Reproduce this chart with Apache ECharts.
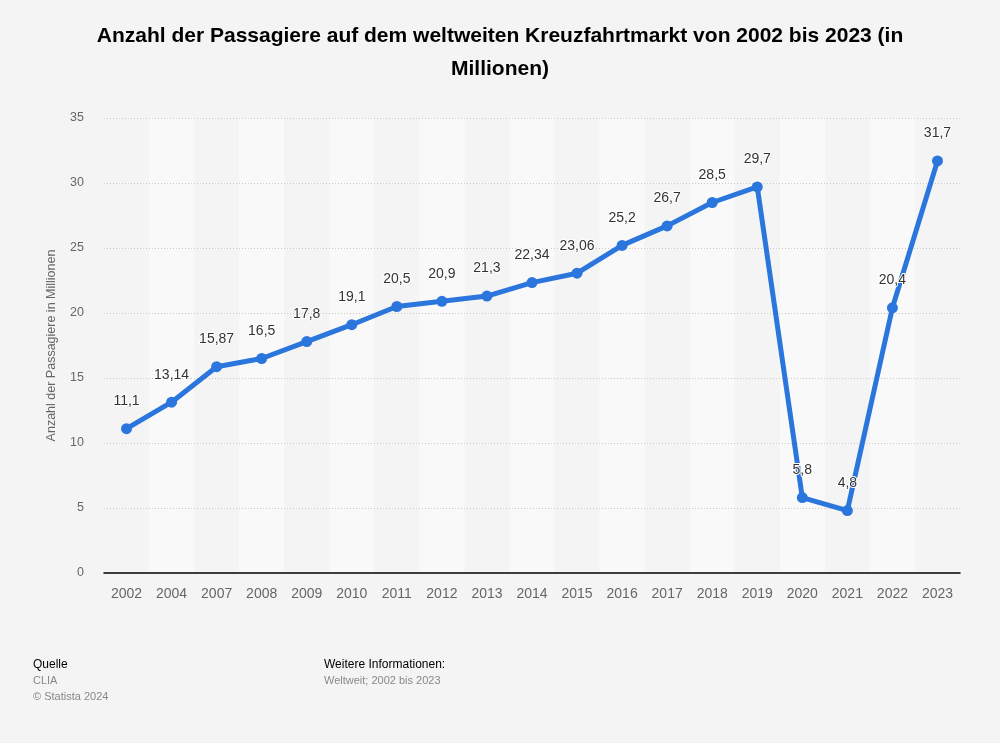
<!DOCTYPE html>
<html><head><meta charset="utf-8">
<script src="https://cdn.jsdelivr.net/npm/echarts@6/dist/echarts.min.js"></script>
<style>html,body{margin:0;padding:0;background:#f4f4f4;}#c{width:1000px;height:743px;}</style>
</head><body><div id="c"></div>
<script>
const categories = ['2002','2004','2007','2008','2009','2010','2011','2012','2013','2014','2015','2016','2017','2018','2019','2020','2021','2022','2023'];
const values = [11.1,13.14,15.87,16.5,17.8,19.1,20.5,20.9,21.3,22.34,23.06,25.2,26.7,28.5,29.7,5.8,4.8,20.4,31.7];
const yTicks = [0,5,10,15,20,25,30,35];
const fmt = v => String(v).replace('.', ',');
const FF = 'Liberation Sans, Arial, sans-serif';
const chart = echarts.init(document.getElementById('c'), null, {renderer:'canvas'});
chart.setOption({
  backgroundColor:'#f4f4f4',
  animation:false,
  textStyle:{fontFamily:FF},
  title:{
    text:'Anzahl der Passagiere auf dem weltweiten Kreuzfahrtmarkt von 2002 bis 2023 (in\nMillionen)',
    left:'center', top:15,
    textStyle:{fontSize:21,fontWeight:'bold',color:'#000',lineHeight:33,fontFamily:FF}
  },
  grid:{left:104,right:40,top:118,bottom:170,containLabel:false},
  xAxis:{
    type:'category', data:categories, boundaryGap:true, z:0,
    axisLine:{lineStyle:{color:'#000',width:1.5}},
    axisTick:{show:false},
    axisLabel:{color:'#666',fontSize:14,margin:14},
    splitArea:{show:true,areaStyle:{color:['rgba(0,0,0,0)','#f9f9f9']}}
  },
  yAxis:{
    type:'value', min:yTicks[0], max:yTicks[yTicks.length-1], interval:5, z:1,
    name:'Anzahl der Passagiere in Millionen', nameLocation:'middle', nameGap:46,
    nameTextStyle:{color:'#666',fontSize:12.5},
    axisLine:{show:false}, axisTick:{show:false},
    axisLabel:{color:'#666',fontSize:12.5,margin:20},
    splitLine:{showMinLine:false,lineStyle:{color:'#c8c8c8',type:[1,2],width:1}}
  },
  series:[{
    type:'line', data:values,
    lineStyle:{color:'#2a76dd',width:5},
    itemStyle:{color:'#2a76dd'},
    symbol:'circle', symbolSize:11,
    label:{show:true,position:'top',distance:15,color:'#333',fontSize:14,
      textBorderColor:'#fff',textBorderWidth:2,
      formatter:p=>fmt(p.value)},
    z:3
  }],
  graphic:[
    {type:'text',left:33,top:659,style:{text:'Quelle',fontSize:12,fill:'#000',fontFamily:FF}},
    {type:'text',left:33,top:675,style:{text:'CLIA',fontSize:11,fill:'#888',fontFamily:FF}},
    {type:'text',left:33,top:691,style:{text:'© Statista 2024',fontSize:11,fill:'#888',fontFamily:FF}},
    {type:'text',left:324,top:659,style:{text:'Weitere Informationen:',fontSize:12,fill:'#000',fontFamily:FF}},
    {type:'text',left:324,top:675,style:{text:'Weltweit; 2002 bis 2023',fontSize:11,fill:'#888',fontFamily:FF}}
  ]
});
</script></body></html>
